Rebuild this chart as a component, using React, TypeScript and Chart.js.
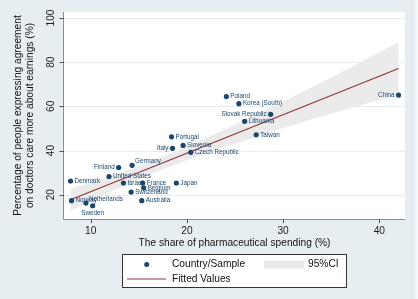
import { useEffect, useRef } from "react";
import { Chart, registerables } from "chart.js";

Chart.register(...registerables);

// Country scatter: pharmaceutical spending share (%) vs. agreement (%)
const countries = [
  "Poland", "Korea (South)", "Slovak Republic", "Lithuania", "Taiwan", "China",
  "Portugal", "Italy", "Slovenia", "Czech Republic", "Germany", "Finland",
  "United States", "Denmark", "Israel", "France", "Belgium", "Japan",
  "Switzerland", "Norway", "Netherlands", "Australia", "Sweden",
];
const pharmaShare = [
  24.1, 25.4, 28.7, 26.0, 27.2, 42.0,
  18.4, 18.5, 19.6, 20.4, 14.3, 12.9,
  11.9, 7.9, 13.4, 15.4, 15.5, 18.9,
  14.2, 8.0, 9.5, 15.3, 10.2,
];
const agreement = [
  64.4, 61.2, 56.4, 53.2, 47.1, 65.1,
  46.2, 41.0, 42.3, 39.2, 33.3, 32.3,
  28.2, 26.2, 25.3, 25.3, 23.1, 25.3,
  21.2, 17.3, 16.2, 17.3, 15.0,
];
// where each country's label sits relative to its marker
const labelSide = [
  "r", "r", "l", "r", "r", "l",
  "r", "l", "r", "r", "ur", "l",
  "r", "r", "r", "r", "r", "r",
  "r", "r", "ur", "r", "b",
];

// Fitted values and 95% confidence band
const fitX = [7.9, 42.0];
const fitY = [17.7, 77.1];
const ciX = [7.9, 12, 16, 20, 25, 30, 35, 42];
const ciUpper = [22.6, 28.2, 34.5, 41.7, 51.7, 62.2, 73.1, 89.0];
const ciLower = [12.6, 21.2, 28.9, 35.7, 43.1, 50.2, 56.7, 65.2];

const xTicks = [10, 20, 30, 40];
const yTicks = [20, 40, 60, 80, 100];

const xTitle = "The share of pharmaceutical spending (%)";
const yTitle = ["Percentage of people expressing agreement", "on doctors care more about earnings (%)"];
const legendLabels = ["Country/Sample", "95%CI", "Fitted Values"];

const W = 418;
const H = 299;
const FONT = "'Liberation Sans', Arial, sans-serif";
const NAVY = "#1a476f";
const MAROON = "#90353b";
const BAND = "#ebebeb";
const BG = "#e6eef1";

const decor = {
  id: "decor",
  beforeDraw(chart: any) {
    const { ctx, chartArea: a } = chart;
    ctx.save();
    ctx.fillStyle = BG;
    ctx.fillRect(0, 0, W, H);
    ctx.fillStyle = "#f3f7f8";
    ctx.fillRect(415, 0, 3, H);
    ctx.fillStyle = "#ffffff";
    ctx.fillRect(a.left - 1, a.top, a.right - a.left + 1, a.bottom - a.top);
    // horizontal grid
    const y = chart.scales.y;
    ctx.strokeStyle = "#e9ecec";
    ctx.lineWidth = 1;
    for (const t of yTicks) {
      const py = Math.round(y.getPixelForValue(t)) + 0.5;
      ctx.beginPath();
      ctx.moveTo(a.left, py);
      ctx.lineTo(a.right, py);
      ctx.stroke();
    }
    ctx.restore();
  },
  afterDatasetsDraw(chart: any) {
    const { ctx } = chart;
    const meta = chart.getDatasetMeta(2);
    ctx.save();
    ctx.font = `6.3px ${FONT}`;
    ctx.fillStyle = NAVY;
    meta.data.forEach((pt: any, i: number) => {
      const side = labelSide[i];
      const name = countries[i];
      if (side === "l") {
        ctx.textAlign = "right";
        ctx.textBaseline = "middle";
        ctx.fillText(name, pt.x - 4, pt.y);
      } else if (side === "ur") {
        ctx.textAlign = "left";
        ctx.textBaseline = "middle";
        ctx.fillText(name, pt.x + 3, pt.y - 4);
      } else if (side === "b") {
        ctx.textAlign = "center";
        ctx.textBaseline = "middle";
        ctx.fillText(name, pt.x, pt.y + 7.5);
      } else {
        ctx.textAlign = "left";
        ctx.textBaseline = "middle";
        ctx.fillText(name, pt.x + 4, pt.y);
      }
    });
    ctx.restore();
  },
  afterDraw(chart: any) {
    const { ctx, chartArea: a } = chart;
    const x = chart.scales.x;
    const y = chart.scales.y;
    ctx.save();
    // axes
    ctx.strokeStyle = "#8c8c8c";
    ctx.lineWidth = 1;
    ctx.beginPath();
    ctx.moveTo(a.left - 0.5, a.top);
    ctx.lineTo(a.left - 0.5, a.bottom + 0.5);
    ctx.lineTo(a.right, a.bottom + 0.5);
    ctx.stroke();
    // tick marks
    ctx.strokeStyle = "#555";
    for (const t of xTicks) {
      const px = Math.round(x.getPixelForValue(t)) + 0.5;
      ctx.beginPath();
      ctx.moveTo(px, a.bottom);
      ctx.lineTo(px, a.bottom + 4);
      ctx.stroke();
    }
    for (const t of yTicks) {
      const py = Math.round(y.getPixelForValue(t)) + 0.5;
      ctx.beginPath();
      ctx.moveTo(a.left - 4.5, py);
      ctx.lineTo(a.left, py);
      ctx.stroke();
    }
    // tick labels
    ctx.fillStyle = "#222";
    ctx.font = `10.2px ${FONT}`;
    ctx.textAlign = "center";
    ctx.textBaseline = "middle";
    for (const t of xTicks) {
      ctx.fillText(String(t), x.getPixelForValue(t), a.bottom + 12.5);
    }
    for (const t of yTicks) {
      ctx.save();
      ctx.translate(51, y.getPixelForValue(t));
      ctx.rotate(-Math.PI / 2);
      ctx.fillText(String(t), 0, 0);
      ctx.restore();
    }
    // axis titles
    ctx.fillStyle = "#111";
    ctx.fillText(xTitle, (a.left + a.right) / 2, 243);
    const cy = (a.top + a.bottom) / 2;
    [18, 30].forEach((cx, i) => {
      ctx.save();
      ctx.translate(cx, cy);
      ctx.rotate(-Math.PI / 2);
      ctx.fillText(yTitle[i], 0, 0);
      ctx.restore();
    });
    // legend
    ctx.fillStyle = "#ffffff";
    ctx.fillRect(122, 254, 225, 33);
    ctx.strokeStyle = "#333";
    ctx.strokeRect(122.5, 254.5, 224, 33);
    ctx.fillStyle = NAVY;
    ctx.beginPath();
    ctx.arc(146.7, 264.5, 2.5, 0, Math.PI * 2);
    ctx.fill();
    ctx.fillStyle = BAND;
    ctx.fillRect(264, 260.5, 40, 8);
    ctx.strokeStyle = MAROON;
    ctx.lineWidth = 1.2;
    ctx.beginPath();
    ctx.moveTo(127, 279);
    ctx.lineTo(166, 279);
    ctx.stroke();
    ctx.fillStyle = "#111";
    ctx.textAlign = "left";
    ctx.fillText(legendLabels[0], 172, 264.5);
    ctx.fillText(legendLabels[1], 308, 264.5);
    ctx.fillText(legendLabels[2], 172, 279);
    ctx.restore();
  },
};

export default function App() {
  const ref = useRef<HTMLCanvasElement>(null);

  useEffect(() => {
    if (!ref.current) return;
    const chart = new Chart(ref.current, {
      type: "line",
      data: {
        datasets: [
          {
            data: ciX.map((v, i) => ({ x: v, y: ciUpper[i] })),
            borderWidth: 0,
            pointRadius: 0,
            fill: "+1",
            backgroundColor: BAND,
            borderColor: "rgba(0,0,0,0)",
            order: 3,
          },
          {
            data: ciX.map((v, i) => ({ x: v, y: ciLower[i] })),
            borderWidth: 0,
            pointRadius: 0,
            fill: false,
            borderColor: "rgba(0,0,0,0)",
            order: 4,
          },
          {
            data: pharmaShare.map((v, i) => ({ x: v, y: agreement[i] })),
            showLine: false,
            pointRadius: 2.6,
            pointBorderWidth: 0,
            pointBackgroundColor: NAVY,
            borderColor: NAVY,
            order: 1,
          },
          {
            data: fitX.map((v, i) => ({ x: v, y: fitY[i] })),
            borderColor: MAROON,
            borderWidth: 1.2,
            pointRadius: 0,
            fill: false,
            order: 2,
          },
        ],
      },
      options: {
        responsive: false,
        animation: false,
        devicePixelRatio: 1,
        layout: { padding: { left: 64, right: 13, top: 12, bottom: 80 } },
        plugins: { legend: { display: false }, tooltip: { enabled: false } },
        elements: { line: { tension: 0 } },
        scales: {
          x: { type: "linear", display: false, min: 7.22, max: 42.67 },
          y: { type: "linear", display: false, min: 9.0, max: 102.7 },
        },
      },
      plugins: [decor],
    });
    return () => chart.destroy();
  }, []);

  return (
    <div style={{ position: "fixed", left: 0, top: 0, width: W, height: H }}>
      <canvas ref={ref} width={W} height={H} style={{ width: W, height: H, display: "block" }} />
    </div>
  );
}
